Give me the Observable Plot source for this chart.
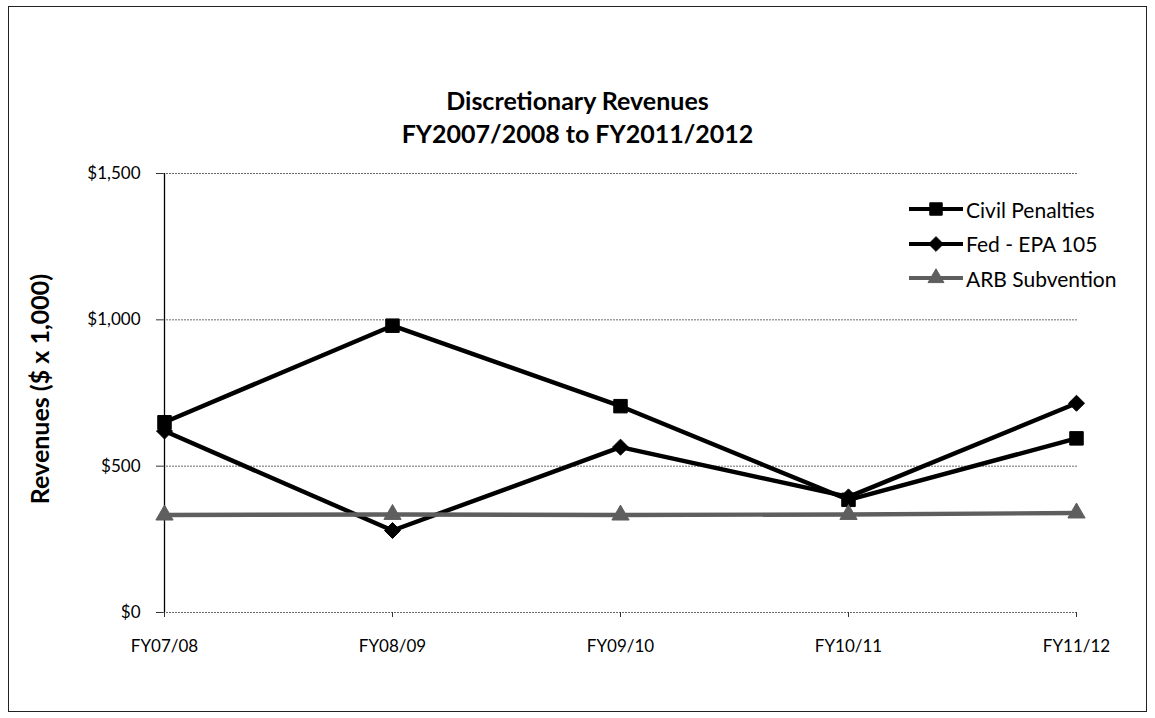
<!DOCTYPE html>
<html>
<head>
<meta charset="utf-8">
<script src="https://cdn.jsdelivr.net/npm/d3@7"></script>
<script src="https://cdn.jsdelivr.net/npm/@observablehq/plot@0.6"></script>
<style>
  html, body { margin: 0; padding: 0; background: #fff; }
  #wrap { position: relative; width: 1155px; height: 718px; overflow: hidden; font-family: Lato, "Open Sans", sans-serif; color: #000; }
  #border { position: absolute; left: 8px; top: 6px; width: 1137px; height: 704px; border: 1.5px solid #222; pointer-events: none; }
  #title { height: 150px; box-sizing: border-box; padding-top: 84px; text-align: center; font-weight: bold; font-size: 25px; line-height: 33px; }
  #legend { position: absolute; left: 906px; top: 192px; font-size: 21px; }
  .item { display: flex; align-items: center; height: 34.5px; }
  .item svg { margin-right: 3px; }
</style>
</head>
<body>
<div id="wrap">
  <div id="title"><div>Discretionary Revenues</div><div>FY2007/2008 to FY2011/2012</div></div>
  <div id="chart"></div>
  <div id="legend"></div>
  <div id="border"></div>
</div>
<script>
const categories = ["FY07/08", "FY08/09", "FY09/10", "FY10/11", "FY11/12"];
const civilPenalties = [650, 980, 705, 385, 595];
const fedEPA105 = [620, 280, 565, 395, 715];
const arbSubvention = [333, 335, 333, 335, 340];
const seriesNames = ["Civil Penalties", "Fed - EPA 105", "ARB Subvention"];
const yTicks = [0, 500, 1000, 1500];
const yLabel = "Revenues ($ x 1,000)";

const seriesValues = [civilPenalties, fedEPA105, arbSubvention];
const seriesStyle = [
  {color: "#000", symbol: "square", r: 7.6},
  {color: "#000", symbol: "diamond2", r: 7.2},
  {color: "#5e5e5e", symbol: "triangle", r: 6.4}
];

const rows = seriesNames.flatMap((s, i) => categories.map((c, j) => ({series: s, cat: c, value: seriesValues[i][j]})));
const fmt = d => "$" + d3.format(",")(d);

const marks = [
  Plot.gridY(yTicks, {stroke: "#6a6a6a", strokeOpacity: 1, strokeWidth: 1, strokeDasharray: "2,1"}),
  Plot.ruleX([categories[0]], {stroke: "#000", strokeWidth: 1.3}),
  Plot.axisY({ticks: yTicks, tickFormat: fmt, tickSize: 7, tickPadding: 16, label: null, stroke: "#333"}),
  Plot.axisX({tickSize: 5, tickPadding: 22, label: null, stroke: "#333"}),
  Plot.text([yLabel], {frameAnchor: "left", dx: -123, dy: -4, rotate: -90, fontWeight: "bold", fontSize: 25, textAnchor: "middle", lineAnchor: "middle"})
];
seriesNames.forEach((s, i) => {
  const d = rows.filter(r => r.series === s);
  const st = seriesStyle[i];
  marks.push(Plot.line(d, {x: "cat", y: "value", stroke: st.color, strokeWidth: 4.4}));
  marks.push(Plot.dot(d, {x: "cat", y: "value", symbol: () => st.symbol, r: st.r, fill: st.color, stroke: st.color, strokeWidth: 1}));
});

const chart = Plot.plot({
  width: 1155,
  height: 568,
  marginLeft: 163,
  marginRight: 78,
  marginTop: 23,
  marginBottom: 106,
  style: {fontFamily: "Lato, 'Open Sans', sans-serif", fontSize: "17px", color: "#000", background: "transparent"},
  x: {type: "point", domain: categories, padding: 0},
  y: {domain: [0, 1500]},
  symbol: {type: "identity"},
  marks
});
document.getElementById("chart").appendChild(chart);

// Legend
const legend = document.getElementById("legend");
seriesNames.forEach((s, i) => {
  const st = seriesStyle[i];
  const item = document.createElement("div");
  item.className = "item";
  const svg = d3.create("svg").attr("width", 57).attr("height", 20);
  svg.append("line").attr("x1", 3).attr("x2", 57).attr("y1", 10).attr("y2", 10).attr("stroke", st.color).attr("stroke-width", 4);
  const symMap = {square: d3.symbolSquare, diamond2: d3.symbolDiamond2, triangle: d3.symbolTriangle};
  svg.append("path").attr("transform", "translate(30,10)").attr("d", d3.symbol(symMap[st.symbol], Math.PI * st.r * st.r * 0.85)()).attr("fill", st.color).attr("stroke", st.color);
  item.appendChild(svg.node());
  const lab = document.createElement("span");
  lab.textContent = s;
  item.appendChild(lab);
  legend.appendChild(item);
});
</script>
</body>
</html>
